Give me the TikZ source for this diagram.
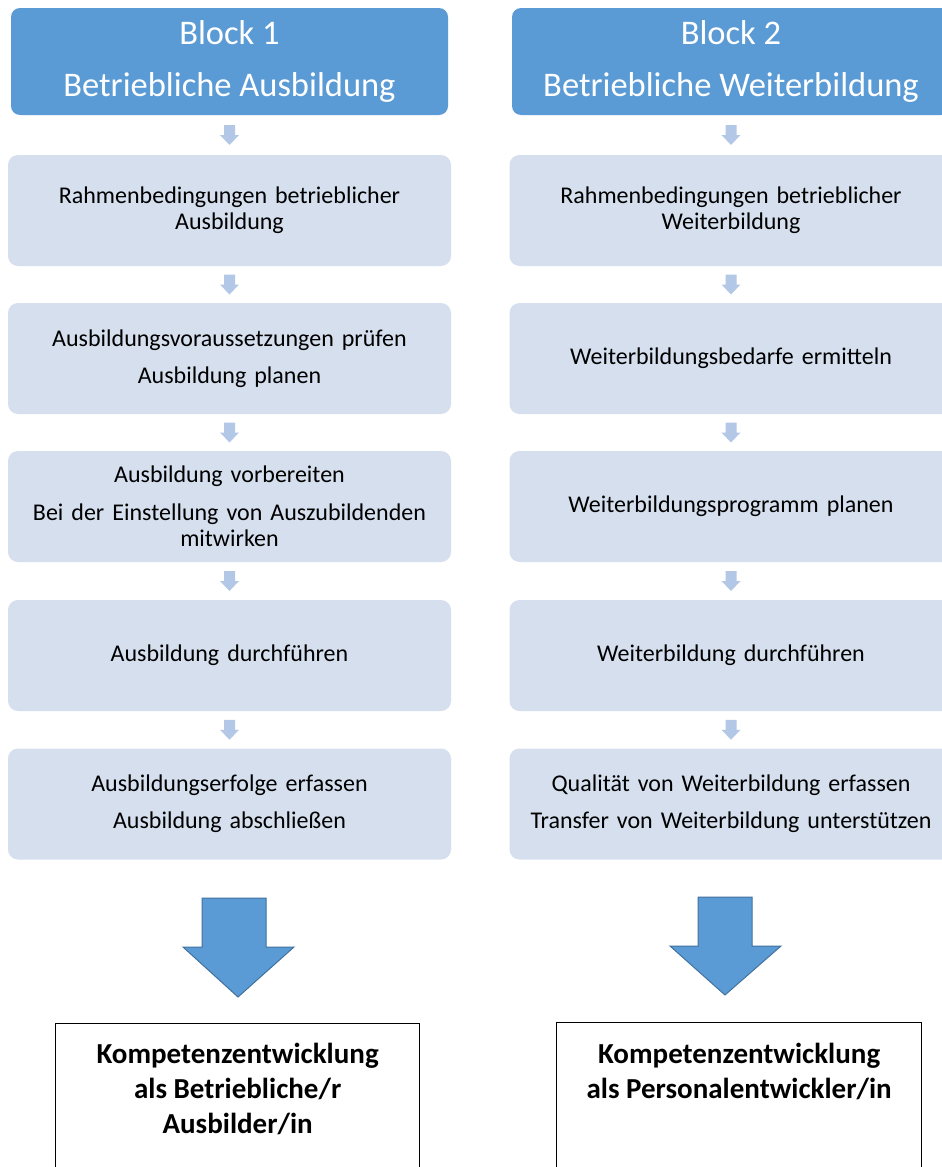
\documentclass[tikz,border=0pt]{standalone}
\usepackage{fontspec}
\setmainfont{Carlito}
\usetikzlibrary{calc}
\definecolor{hdrblue}{HTML}{5B9BD5}
\definecolor{lightbox}{HTML}{D5DFEE}
\definecolor{smallarr}{HTML}{B3C7E6}
\definecolor{bigedge}{HTML}{41719C}
\newcommand\flowarrow[2]{%
  \path ($(#1.south)!0.5!(#2.north)$) coordinate (#1-#2-m);
  \fill[smallarrow] ($(#1-#2-m)+(-5.5,-10)$) -- ++(11,0) -- ++(0,10) -- ++(4,0)
    -- ++(-9.5,10) -- ++(-9.5,-10) -- ++(4,0) -- cycle;}
\begin{document}
\begin{tikzpicture}[x=1pt,y=-1pt,
  hdr/.style={fill=hdrblue, rounded corners=9pt, minimum width=437pt, minimum height=107pt,
    text=white, align=center, font=\fontsize{34.5}{38}\selectfont, inner sep=0pt},
  stepbox/.style={fill=lightbox, rounded corners=10pt, minimum width=443pt, minimum height=111pt,
    align=center, font=\fontsize{24}{26}\selectfont, inner sep=0pt, text width=430pt},
  smallarrow/.style={fill=smallarr},
  bigarrow/.style={fill=hdrblue, draw=bigedge, line width=1pt, line join=miter},
  resultbox/.style={draw=black, line width=1.3pt, minimum height=190pt, anchor=north west, inner sep=0pt},
  resulttext/.style={align=center, font=\fontsize{29}{35}\selectfont\bfseries, inner sep=0pt, anchor=north}
]
\useasboundingbox (0,0) rectangle (942,1167);
\clip (0,0) rectangle (942,1167);
\fill[white] (0,0) rectangle (942,1167);

% left column
\node[hdr] (h1) at (229.5,61.5) {Block 1\\[14pt]Betriebliche Ausbildung};
\node[stepbox] (a1) at (229.5,210.5) {Rahmenbedingungen betrieblicher\\Ausbildung};
\node[stepbox] (a2) at (229.5,358.5) {Ausbildungsvoraussetzungen prüfen\\[11pt]Ausbildung planen};
\node[stepbox] (a3) at (229.5,506.5) {Ausbildung vorbereiten\\[12pt]Bei der Einstellung von Auszubildenden\\mitwirken};
\node[stepbox] (a4) at (229.5,655.5) {Ausbildung durchführen};
\node[stepbox] (a5) at (229.5,804) {Ausbildungserfolge erfassen\\[11pt]Ausbildung abschließen};

% right column
\node[hdr, minimum width=438pt] (h2) at (731,61.5) {Block 2\\[14pt]Betriebliche Weiterbildung};
\node[stepbox] (b1) at (731,210.5) {Rahmenbedingungen betrieblicher\\Weiterbildung};
\node[stepbox] (b2) at (731,358.5) {Weiterbildungsbedarfe ermitteln};
\node[stepbox] (b3) at (731,506.5) {Weiterbildungsprogramm planen};
\node[stepbox] (b4) at (731,655.5) {Weiterbildung durchführen};
\node[stepbox] (b5) at (731,804) {Qualität von Weiterbildung erfassen\\[11pt]Transfer von Weiterbildung unterstützen};

% small arrows
\flowarrow{h1}{a1}\flowarrow{a1}{a2}\flowarrow{a2}{a3}\flowarrow{a3}{a4}\flowarrow{a4}{a5}
\flowarrow{h2}{b1}\flowarrow{b1}{b2}\flowarrow{b2}{b3}\flowarrow{b3}{b4}\flowarrow{b4}{b5}

% result boxes
\node[resultbox, minimum width=364pt] (k1) at (55,1023) {};
\node[resultbox, minimum width=365pt] (k2) at (556,1022) {};
\node[resulttext] (k1t) at ($(k1.north)+(0,20)$) {Kompetenzentwicklung\\als Betriebliche/r\\Ausbilder/in};
\node[resulttext] (k2t) at ($(k2.north)+(0,21)$) {Kompetenzentwicklung\\als Personalentwickler/in};

% big arrows
\draw[bigarrow] (202,898) -- (266,898) -- (266,947) -- (294,947) -- (238,997) -- (183,947) -- (202,947) -- cycle;
\draw[bigarrow] (698,897) -- (752,897) -- (752,946) -- (781,946) -- (725,995) -- (670,946) -- (698,946) -- cycle;
\end{tikzpicture}
\end{document}
